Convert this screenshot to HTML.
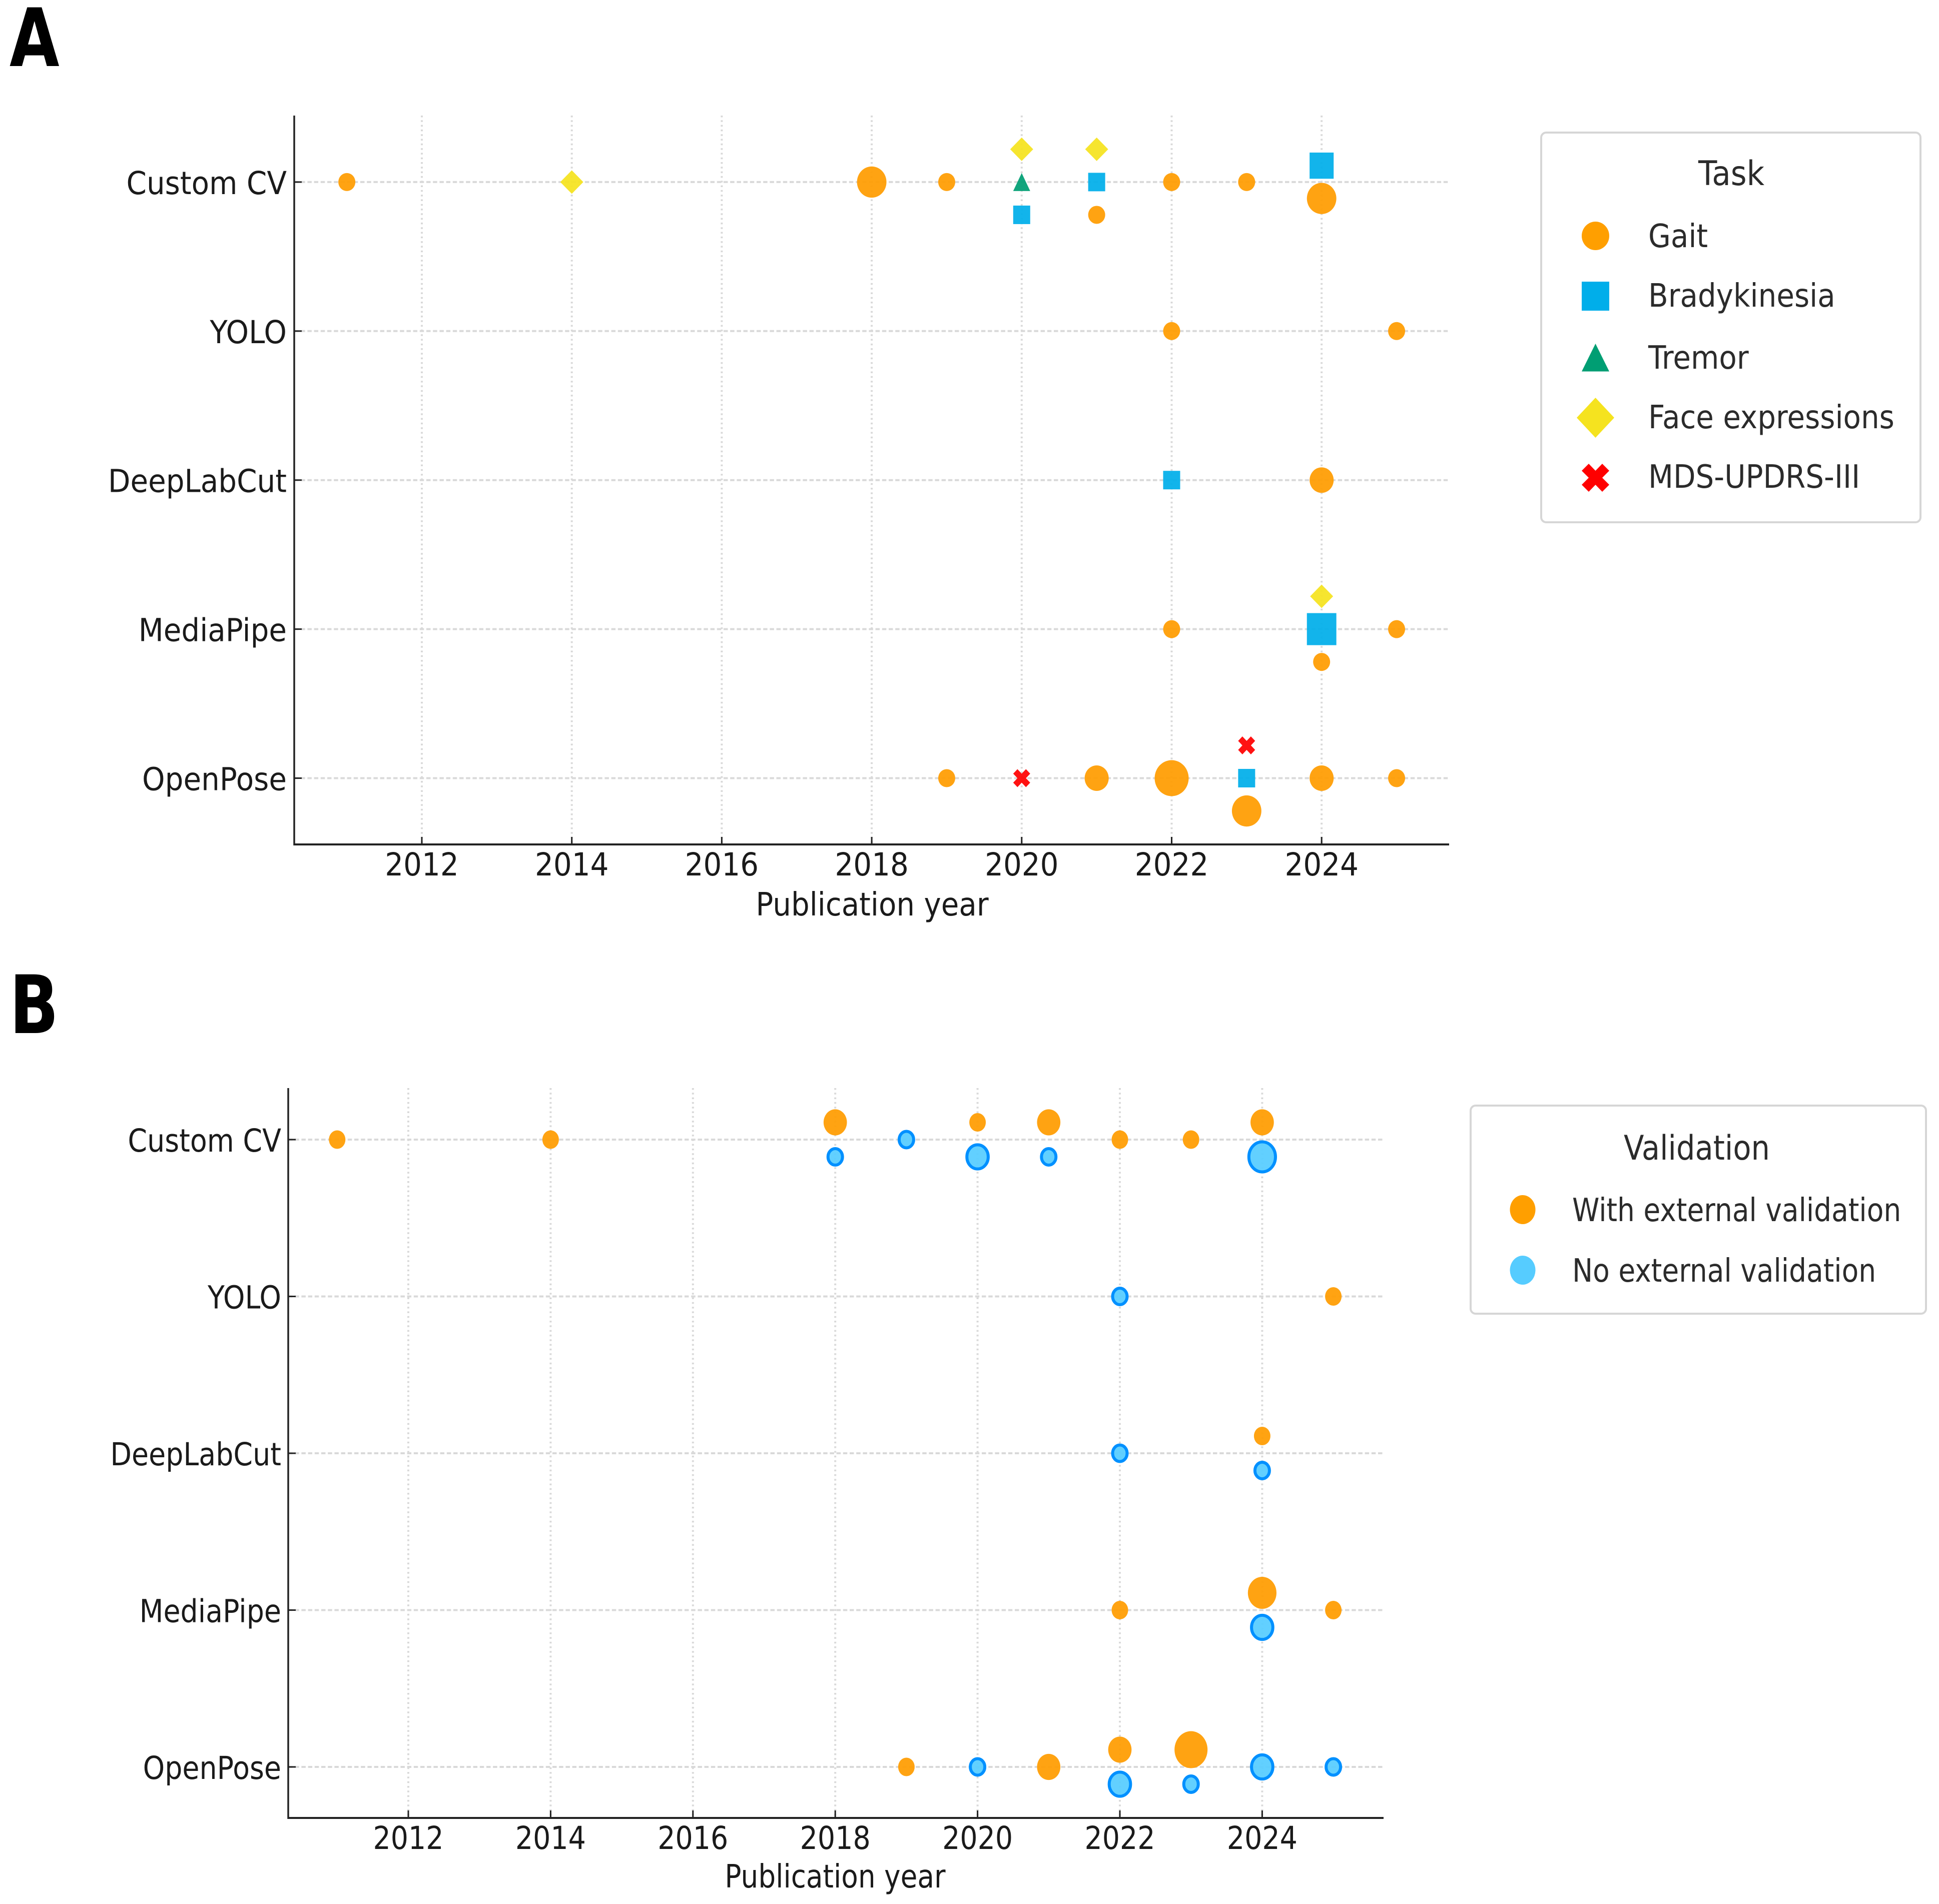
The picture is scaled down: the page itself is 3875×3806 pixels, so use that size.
<!DOCTYPE html>
<html lang="en">
<head>
<meta charset="utf-8">
<title>Pose estimation tools by publication year</title>
<style>
  html, body { margin: 0; padding: 0; background: #ffffff; }
  svg { display: block; }
  text { font-family: "DejaVu Sans", "Liberation Sans", sans-serif; }
</style>
</head>
<body>
<svg id="figure" xmlns="http://www.w3.org/2000/svg" width="3875" height="3806" viewBox="0 0 3875 3806">
  <rect x="0" y="0" width="3875" height="3806" fill="#ffffff"/>
  <text transform="translate(19,132) scale(0.8,1)" font-size="161" font-weight="700" fill="#000">A</text>
  <text transform="translate(19,2065) scale(0.8,1)" font-size="161" font-weight="700" fill="#000">B</text>
  <g id="panel-a"></g>
  <g id="panel-b"></g>

  <g>
    <rect x="3080" y="265" width="758" height="779" rx="10" ry="10" fill="#fff" stroke="#d6d6d6" stroke-width="4"/>
    <text transform="translate(3460,370) scale(0.9,1)" text-anchor="middle" font-size="68" fill="#2b2b2b">Task</text>
    <ellipse cx="3188.5" cy="471.5" rx="27.5" ry="28.5" fill="#ff9f00"/>
    <text transform="translate(3294,494) scale(0.905,1)" font-size="64" fill="#2b2b2b">Gait</text>
    <rect x="3161" y="563" width="55" height="58" fill="#00aeea"/>
    <text transform="translate(3294,613) scale(0.905,1)" font-size="64" fill="#2b2b2b">Bradykinesia</text>
    <polygon points="3188.5,687 3216,742.5 3161,742.5" fill="#009e73"/>
    <text transform="translate(3294,737) scale(0.905,1)" font-size="64" fill="#2b2b2b">Tremor</text>
    <polygon points="3188.5,795 3226,835 3188.5,875 3151,835" fill="#f5e31f"/>
    <text transform="translate(3294,856) scale(0.905,1)" font-size="64" fill="#2b2b2b">Face expressions</text>
    <polygon points="3175,927 3188.5,941 3202,927 3216,941 3202,955 3216,969 3202,983 3188.5,969 3175,983 3161,969 3175,955 3161,941" fill="#ff0000"/>
    <text transform="translate(3294,975) scale(0.905,1)" font-size="64" fill="#2b2b2b">MDS-UPDRS-III</text>
  </g>

  <g>
    <rect x="2939" y="2210" width="910" height="416" rx="10" ry="10" fill="#fff" stroke="#d6d6d6" stroke-width="4"/>
    <text transform="translate(3391,2318) scale(0.87,1)" text-anchor="middle" font-size="68" fill="#2b2b2b">Validation</text>
    <ellipse cx="3043" cy="2418" rx="25.5" ry="29" fill="#ff9f00"/>
    <text transform="translate(3142,2441) scale(0.86,1)" font-size="64" fill="#2b2b2b">With external validation</text>
    <ellipse cx="3043" cy="2539" rx="25.5" ry="29" fill="#56ccff"/>
    <text transform="translate(3142,2562) scale(0.86,1)" font-size="64" fill="#2b2b2b">No external validation</text>
  </g>
</svg>

<script>
// Shared axis values
const categories = ['OpenPose', 'MediaPipe', 'DeepLabCut', 'YOLO', 'Custom CV'];
const yearTicks = [2012, 2014, 2016, 2018, 2020, 2022, 2024];
const xAxisTitle = 'Publication year';

// Panel A: study groups (year, tool index, vertical shift in rows, task, study count)
const taskYears  = [2011, 2014, 2018, 2019, 2020, 2020, 2020, 2021, 2021, 2021, 2022, 2023, 2024, 2024,
                    2022, 2025,
                    2022, 2024,
                    2022, 2024, 2024, 2024, 2025,
                    2019, 2020, 2021, 2022, 2023, 2023, 2023, 2024, 2025];
const taskTools  = [4, 4, 4, 4, 4, 4, 4, 4, 4, 4, 4, 4, 4, 4,
                    3, 3,
                    2, 2,
                    1, 1, 1, 1, 1,
                    0, 0, 0, 0, 0, 0, 0, 0, 0];
const taskShifts = [0, 0, 0, 0, 0.22, 0, -0.22, 0.22, 0, -0.22, 0, 0, 0.11, -0.11,
                    0, 0,
                    0, 0,
                    0, 0.22, 0, -0.22, 0,
                    0, 0, 0, 0, 0.22, 0, -0.22, 0, 0];
const taskKinds  = ['gait', 'face', 'gait', 'gait', 'face', 'tremor', 'brady', 'face', 'brady', 'gait', 'gait', 'gait', 'brady', 'gait',
                    'gait', 'gait',
                    'brady', 'gait',
                    'gait', 'face', 'brady', 'gait', 'gait',
                    'gait', 'mds', 'gait', 'gait', 'mds', 'brady', 'gait', 'gait', 'gait'];
const taskCounts = [1, 1, 3, 1, 1, 1, 1, 1, 1, 1, 1, 1, 2, 3,
                    1, 1,
                    1, 2,
                    1, 1, 3, 1, 1,
                    1, 1, 2, 4, 1, 1, 3, 2, 1];

// Panel B: study groups (year, tool index, vertical shift in rows, validated flag, study count)
const validationYears  = [2011, 2014, 2018, 2018, 2019, 2020, 2020, 2021, 2021, 2022, 2023, 2024, 2024,
                          2022, 2025,
                          2022, 2024, 2024,
                          2022, 2024, 2024, 2025,
                          2019, 2020, 2021, 2022, 2022, 2023, 2023, 2024, 2025];
const validationTools  = [4, 4, 4, 4, 4, 4, 4, 4, 4, 4, 4, 4, 4,
                          3, 3,
                          2, 2, 2,
                          1, 1, 1, 1,
                          0, 0, 0, 0, 0, 0, 0, 0, 0];
const validationShifts = [0, 0, 0.11, -0.11, 0, 0.11, -0.11, 0.11, -0.11, 0, 0, 0.11, -0.11,
                          0, 0,
                          0, 0.11, -0.11,
                          0, 0.11, -0.11, 0,
                          0, 0, 0, 0.11, -0.11, 0.11, -0.11, 0, 0];
const validationFlags  = ['yes', 'yes', 'yes', 'no', 'no', 'yes', 'no', 'yes', 'no', 'yes', 'yes', 'yes', 'no',
                          'no', 'yes',
                          'no', 'yes', 'no',
                          'yes', 'yes', 'no', 'yes',
                          'yes', 'no', 'yes', 'yes', 'no', 'yes', 'no', 'no', 'no'];
const validationCounts = [1, 1, 2, 1, 1, 1, 2, 2, 1, 1, 1, 2, 3,
                          1, 1,
                          1, 1, 1,
                          1, 3, 2, 1,
                          1, 1, 2, 2, 2, 4, 1, 2, 1];

// Axis functions
function xA(year) { return 843 + (year - 2012) * 149.85; }
function yA(row)  { return 1555.5 - row * 297.9; }
function xB(year) { return 816 + (year - 2012) * 142.2; }
function yB(row)  { return 3532 - row * 313.5; }

const NS = 'http://www.w3.org/2000/svg';

function make(parent, tag, attrs) {
  const el = document.createElementNS(NS, tag);
  for (const k in attrs) el.setAttribute(k, attrs[k]);
  parent.appendChild(el);
  return el;
}

function drawFrame(parent, cfg) {
  // Grid
  yearTicks.forEach(function (yr) {
    const el = make(parent, 'line', { x1: cfg.x(yr), x2: cfg.x(yr), y1: cfg.top, y2: cfg.bottom,
      stroke: '#d9d9d9', 'stroke-width': 4, 'stroke-dasharray': '3.5 5.8' });
    
    
  });
  categories.forEach(function (name, i) {
    const el = make(parent, 'line', { x1: cfg.left, x2: cfg.right, y1: cfg.y(i), y2: cfg.y(i),
      stroke: '#d9d9d9', 'stroke-width': 4, 'stroke-dasharray': '8.5 4.7' });
    
    
  });
  // Spines
  const ySpine = make(parent, 'line', { x1: cfg.left, x2: cfg.left, y1: cfg.top, y2: cfg.bottom + 2, stroke: '#222', 'stroke-width': 3.5 });
  
  
  const xSpine = make(parent, 'line', { x1: cfg.left, x2: cfg.right, y1: cfg.bottom, y2: cfg.bottom, stroke: '#222', 'stroke-width': 4 });
  
  
  // X ticks
  yearTicks.forEach(function (yr) {
    const tick = make(parent, 'line', { x1: cfg.x(yr), x2: cfg.x(yr), y1: cfg.bottom - 15, y2: cfg.bottom, stroke: '#222', 'stroke-width': 3 });
    
    
    const label = make(parent, 'text', { transform: 'translate(' + cfg.x(yr) + ',' + (cfg.bottom + 62) + ') scale(' + cfg.sx + ',1)',
      'text-anchor': 'middle', 'font-size': 63, fill: '#1a1a1a' });
    label.textContent = String(yr);
    
    
  });
  // Y ticks
  categories.forEach(function (name, i) {
    const tick = make(parent, 'line', { x1: cfg.left, x2: cfg.left + 15, y1: cfg.y(i), y2: cfg.y(i), stroke: '#222', 'stroke-width': 3 });
    
    
    const label = make(parent, 'text', { transform: 'translate(' + cfg.labelRight + ',' + (cfg.y(i) + 24) + ') scale(' + cfg.sx + ',1)',
      'text-anchor': 'end', 'font-size': 63, fill: '#1a1a1a' });
    label.textContent = name;
    
    
  });
  // Axis title
  const title = make(parent, 'text', { transform: 'translate(' + cfg.titleX + ',' + cfg.titleY + ') scale(' + cfg.titleSx + ',1)',
    'text-anchor': 'middle', 'font-size': 64, fill: '#1a1a1a' });
  title.textContent = xAxisTitle;
  
  
}

const TASK_COLORS = { gait: '#ff9c00', brady: '#00aeea', tremor: '#009e73', face: '#f5e31f', mds: '#ff0000' };
const TASK_BASE_W = { gait: 34, brady: 34, tremor: 34, face: 46, mds: 34 };
const TASK_BASE_H = { gait: 36, brady: 37, tremor: 36, face: 47, mds: 36 };

function drawTaskMarker(parent, kind, cx, cy, n) {
  const w = TASK_BASE_W[kind] * Math.sqrt(n);
  const h = TASK_BASE_H[kind] * Math.sqrt(n);
  const hw = w / 2, hh = h / 2;
  const style = { fill: TASK_COLORS[kind], 'fill-opacity': 0.93 };
  let el;
  if (kind === 'gait') {
    el = make(parent, 'ellipse', Object.assign({ cx: cx, cy: cy, rx: hw, ry: hh }, style));
  } else if (kind === 'brady') {
    el = make(parent, 'rect', Object.assign({ x: cx - hw, y: cy - hh, width: w, height: h }, style));
  } else {
    const shape = kind === 'tremor'
      ? [[0, -1], [1, 1], [-1, 1]]
      : kind === 'face'
        ? [[0, -1], [1, 0], [0, 1], [-1, 0]]
        : [[-0.5, -1], [0, -0.5], [0.5, -1], [1, -0.5], [0.5, 0], [1, 0.5], [0.5, 1], [0, 0.5], [-0.5, 1], [-1, 0.5], [-0.5, 0], [-1, -0.5]];
    const pts = shape.map(function (p) { return (cx + p[0] * hw) + ',' + (cy + p[1] * hh); }).join(' ');
    el = make(parent, 'polygon', Object.assign({ points: pts }, style));
  }
  return el;
}

function drawPanelA() {
  const g = document.getElementById('panel-a');
  drawFrame(g, { x: xA, y: yA, left: 588, right: 2896, top: 231, bottom: 1688, sx: 0.92, titleSx: 0.905, labelRight: 573, titleX: 1743, titleY: 1830 });
  taskYears.forEach(function (yr, i) {
    const kind = taskKinds[i];
    const el = drawTaskMarker(g, kind, xA(yr), yA(taskTools[i] + taskShifts[i]), taskCounts[i]);
    
    
  });
}

function drawPanelB() {
  const g = document.getElementById('panel-b');
  drawFrame(g, { x: xB, y: yB, left: 576, right: 2765, top: 2175, bottom: 3634, sx: 0.88, titleSx: 0.858, labelRight: 562, titleX: 1669, titleY: 3773 });
  validationYears.forEach(function (yr, i) {
    const n = Math.sqrt(validationCounts[i]);
    const cx = xB(yr), cy = yB(validationTools[i] + validationShifts[i]);
    let el;
    if (validationFlags[i] === 'yes') {
      el = make(g, 'ellipse', { cx: cx, cy: cy, rx: 33 * n / 2, ry: 37 * n / 2, fill: '#ff9c00', 'fill-opacity': 0.93 });
    } else {
      el = make(g, 'ellipse', { cx: cx, cy: cy, rx: (33 * n - 4) / 2, ry: (37 * n - 4) / 2, fill: '#56ccff', 'fill-opacity': 0.93, stroke: '#0090ff', 'stroke-width': 6 });
    }
    
    
  });
}

drawPanelA();
drawPanelB();
</script>
</body>
</html>
